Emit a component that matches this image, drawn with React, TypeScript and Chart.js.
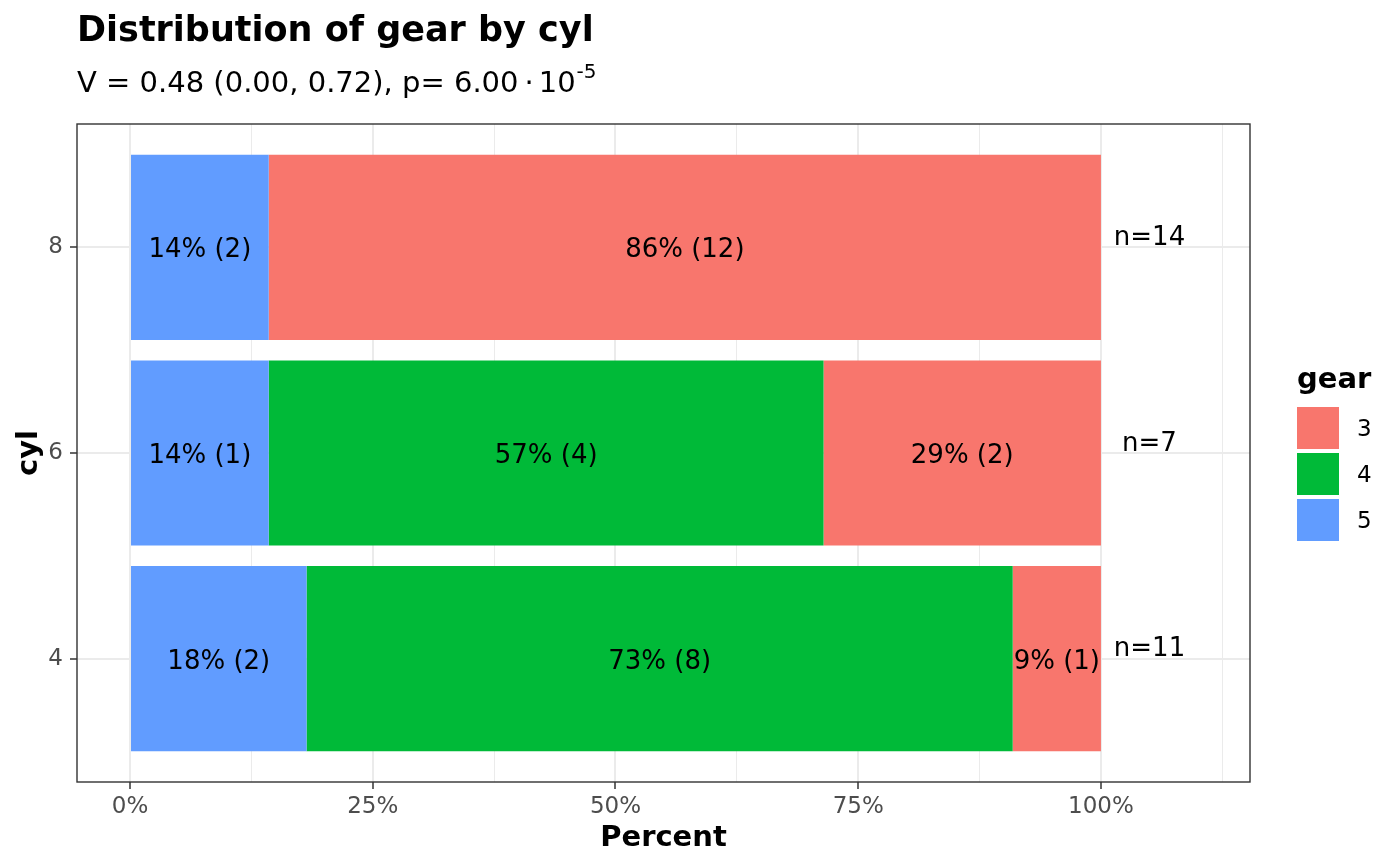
import React, { useEffect, useRef } from 'react';
import { Chart, registerables } from 'chart.js';

Chart.register(...registerables);

const FONT = '"DejaVu Sans", "Liberation Sans", sans-serif';

// ---- data ----
const cylLevels = ['4', '6', '8'];
const gearLevels = ['3', '4', '5'];
const gear3Counts = [1, 2, 12];
const gear4Counts = [8, 4, 0];
const gear5Counts = [2, 1, 2];
const gearColors = ['#F8766D', '#00BA38', '#619CFF'];
const majorPercentTicks = [0, 25, 50, 75, 100];
const minorPercentTicks = [12.5, 37.5, 62.5, 87.5, 112.5];
const percentTickLabels = ['0%', '25%', '50%', '75%', '100%'];
const chartTitle = 'Distribution of gear by cyl';
const subtitleMain = 'V = 0.48 (0.00, 0.72), p= 6.00';
const subtitleDot = '\u00B7';
const subtitleBase = '10';
const subtitleExponent = '-5';
const xAxisTitle = 'Percent';
const yAxisTitle = 'cyl';
const legendTitle = 'gear';

const countsByGear = [gear3Counts, gear4Counts, gear5Counts];
const totals = cylLevels.map((_, i) => countsByGear.reduce((s, arr) => s + arr[i], 0));
const stackOrder = [2, 1, 0]; // gear 5 leftmost, then 4, then 3

const X_MIN = -5.46;
const X_MAX = 115.35;
const N_LABEL_X = 105;
const N_LABEL_LIFT = 0.057;

const isMajor = (v: number) => majorPercentTicks.indexOf(v) !== -1;

const overlayPlugin = {
  id: 'overlay',
  afterDatasetsDraw(chart: any) {
    const ctx = chart.ctx as CanvasRenderingContext2D;
    ctx.save();
    // segment labels
    ctx.font = `26px ${FONT}`;
    ctx.fillStyle = '#000000';
    ctx.textAlign = 'center';
    ctx.textBaseline = 'alphabetic';
    chart.data.datasets.forEach((ds: any, di: number) => {
      const g = stackOrder[di];
      const meta = chart.getDatasetMeta(di);
      meta.data.forEach((el: any, i: number) => {
        const count = countsByGear[g][i];
        if (!count) return;
        const pct = Math.round((count / totals[i]) * 100);
        const cx = (el.x + el.base) / 2;
        ctx.fillText(`${pct}% (${count})`, cx, el.y + 10);
      });
    });
    // n labels
    const xs = chart.scales.x;
    const ys = chart.scales.y;
    totals.forEach((n, i) => {
      const px = xs.getPixelForValue(N_LABEL_X);
      const py = ys.getPixelForValue(i + 1 + N_LABEL_LIFT);
      ctx.fillText(`n=${n}`, px, py + 9.5);
    });
    ctx.restore();
  },
  afterDraw(chart: any) {
    const ctx = chart.ctx as CanvasRenderingContext2D;
    const a = chart.chartArea;
    ctx.save();
    // panel border
    ctx.strokeStyle = '#333333';
    ctx.lineWidth = 1.4;
    ctx.strokeRect(a.left, a.top, a.right - a.left, a.bottom - a.top);

    // title
    ctx.fillStyle = '#000000';
    ctx.textAlign = 'left';
    ctx.textBaseline = 'alphabetic';
    ctx.font = `bold 35px ${FONT}`;
    ctx.fillText(chartTitle, 77, 41);

    // subtitle with superscript
    ctx.font = `29px ${FONT}`;
    let sx = 77;
    const sBase = 92;
    ctx.fillText(subtitleMain, sx, sBase);
    sx += ctx.measureText(subtitleMain).width + 6;
    ctx.fillText(subtitleDot, sx, sBase);
    sx += ctx.measureText(subtitleDot).width + 5;
    ctx.fillText(subtitleBase, sx, sBase);
    sx += ctx.measureText(subtitleBase).width + 1;
    ctx.font = `20px ${FONT}`;
    ctx.fillText(subtitleExponent, sx, sBase - 14);

    // legend
    const lx = 1297;
    ctx.font = `bold 29px ${FONT}`;
    ctx.fillText(legendTitle, lx, 388);
    ctx.font = `23px ${FONT}`;
    gearLevels.forEach((g, k) => {
      const y0 = 407 + k * 46;
      ctx.fillStyle = gearColors[k];
      ctx.fillRect(lx, y0, 42, 42);
      ctx.fillStyle = '#000000';
      ctx.fillText(g, 1357, y0 + 21 + 8.4);
    });
    ctx.restore();
  },
};

export default function App() {
  const canvasRef = useRef<HTMLCanvasElement | null>(null);

  useEffect(() => {
    document.body.style.margin = '0';
    const canvas = canvasRef.current;
    if (!canvas) return;

    const datasets = stackOrder.map((g) => ({
      label: gearLevels[g],
      data: cylLevels.map((_, i) => ({ x: (countsByGear[g][i] / totals[i]) * 100, y: i + 1 })),
      backgroundColor: gearColors[g],
      borderWidth: 0,
      barPercentage: 0.9,
      categoryPercentage: 1,
    }));

    const chart = new Chart(canvas, {
      type: 'bar',
      data: { datasets } as any,
      plugins: [overlayPlugin],
      options: {
        indexAxis: 'y',
        responsive: false,
        animation: false,
        devicePixelRatio: 1,
        layout: { padding: { top: 124, right: 150, bottom: 0, left: 0 } },
        plugins: {
          legend: { display: false },
          tooltip: { enabled: false },
          title: { display: false },
        },
        scales: {
          x: {
            type: 'linear',
            stacked: true,
            offset: false,
            min: X_MIN,
            max: X_MAX,
            afterBuildTicks: (axis: any) => {
              axis.ticks = [...majorPercentTicks, ...minorPercentTicks]
                .sort((p, q) => p - q)
                .map((v) => ({ value: v }));
            },
            afterFit: (axis: any) => {
              axis.height = 84;
            },
            border: { display: false },
            grid: {
              offset: false,
              color: '#EBEBEB',
              lineWidth: (c: any) => (c.tick && isMajor(c.tick.value) ? 2 : 1),
              tickColor: (c: any) => (c.tick && isMajor(c.tick.value) ? '#333333' : 'rgba(0,0,0,0)'),
              tickLength: 7,
              tickWidth: 1.5,
              drawTicks: true,
            },
            ticks: {
              autoSkip: false,
              maxRotation: 0,
              padding: 4,
              color: '#4D4D4D',
              font: { family: FONT, size: 23 },
              callback: (v: any) => {
                const idx = majorPercentTicks.indexOf(Number(v));
                return idx === -1 ? '' : percentTickLabels[idx];
              },
            },
            title: {
              display: true,
              text: xAxisTitle,
              color: '#000000',
              font: { family: FONT, size: 29, weight: 'bold' },
              padding: { top: 0, bottom: 10 },
            },
          },
          y: {
            type: 'linear',
            stacked: true,
            offset: false,
            min: 0.4,
            max: 3.6,
            afterBuildTicks: (axis: any) => {
              axis.ticks = cylLevels.map((_, i) => ({ value: i + 1 }));
            },
            afterFit: (axis: any) => {
              axis.width = 77;
            },
            border: { display: false },
            grid: {
              offset: false,
              color: '#EBEBEB',
              lineWidth: 2,
              tickColor: '#333333',
              tickLength: 7,
              tickWidth: 1.5,
            },
            ticks: {
              autoSkip: false,
              padding: 7,
              color: '#4D4D4D',
              font: { family: FONT, size: 23 },
              callback: (v: any) => cylLevels[Number(v) - 1] ?? '',
            },
            title: {
              display: true,
              text: yAxisTitle,
              color: '#000000',
              font: { family: FONT, size: 29, weight: 'bold' },
              padding: { top: 12, bottom: 0 },
            },
          },
        },
      } as any,
    });

    return () => {
      chart.destroy();
    };
  }, []);

  return (
    <div style={{ width: 1400, height: 866, position: 'relative', background: '#ffffff' }}>
      <canvas ref={canvasRef} width={1400} height={866} style={{ display: 'block', width: 1400, height: 866 }} />
    </div>
  );
}
